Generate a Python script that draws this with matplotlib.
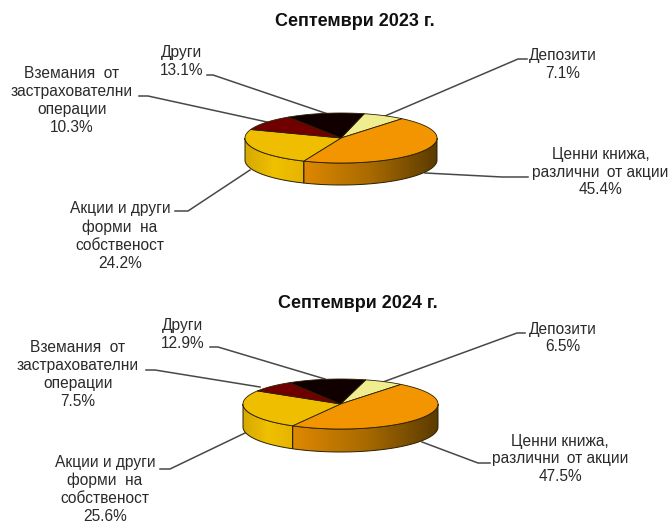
import numpy as np
import matplotlib
matplotlib.use('Agg')
import matplotlib.pyplot as plt
from matplotlib.colors import LinearSegmentedColormap
from matplotlib.patches import Polygon

plt.rcParams['font.family'] = ['Liberation Sans', 'DejaVu Sans']

# Data: slice order is clockwise from the top
categories = ['Депозити', 'Ценни книжа', 'Акции', 'Вземания', 'Други']
values_2023 = [7.1, 45.4, 24.2, 10.3, 13.1]
values_2024 = [6.5, 47.5, 25.6, 7.5, 12.9]
titles = ['Септември 2023 г.', 'Септември 2024 г.']

top_colors = ['#F0EC90', '#F39500', '#EFBE00', '#700000', '#100000']
side_colors = [('#F0EC90', '#B0AC60'), ('#5A3A00', '#A86A00', '#DE8800'),
               ('#E6B400', '#F0C000', '#D6A800'),
               ('#500000', '#300000'), ('#000000', '#000000')]
edge = '#2A2000'


def ellipse_pts(cx, cy, rx, ry, a0, a1, n=120):
    t = np.radians(np.linspace(a0, a1, n))
    return cx + rx * np.cos(t), cy - ry * np.sin(t)


def draw_pie(ax, cx, cy, rx, ry, depth, values, start=76):
    # slice angles, going clockwise
    bounds = start - np.cumsum([0] + values) / sum(values) * 360

    # side wall, only the front half of the ellipse shows
    for i in range(len(values)):
        a0 = min(bounds[i], -0.0)
        a1 = max(bounds[i + 1], -180.0)
        if a0 <= a1:
            continue
        x, y = ellipse_pts(cx, cy, rx, ry, a0, a1)
        xy = np.r_[np.c_[x, y], np.c_[x[::-1], y[::-1] + depth]]
        poly = Polygon(xy, closed=True, fc='none', ec=edge, lw=0.7, zorder=3)
        ax.add_patch(poly)
        cmap = LinearSegmentedColormap.from_list('side', side_colors[i])
        ext = [x.min(), x.max(), cy + ry + depth, cy - ry]
        grad = np.linspace(1, 0, 256).reshape(1, -1)
        im = ax.imshow(grad, cmap=cmap, extent=ext, aspect='auto', zorder=2)
        im.set_clip_path(poly)

    # top face
    for i in range(len(values)):
        x, y = ellipse_pts(cx, cy, rx, ry, bounds[i], bounds[i + 1])
        xy = np.r_[[[cx, cy]], np.c_[x, y]]
        ax.add_patch(Polygon(xy, closed=True, fc=top_colors[i], ec=edge, lw=0.6, zorder=4))


fig = plt.figure(figsize=(6.7, 5.24), dpi=100)
ax = fig.add_axes([0, 0, 1, 1])

draw_pie(ax, 341, 138, 96, 25, 22, values_2023)
draw_pie(ax, 340.5, 404, 97.5, 25, 23, values_2024, start=75)

# leader lines
line_color = '#484848'
leaders = [
    ([207, 213, 328], [75, 75, 114]),
    ([139, 148, 267], [96, 96, 122]),
    ([175, 188, 250], [211, 211, 170]),
    ([528, 502, 425], [177, 177, 173]),
    ([527, 518, 385], [59, 59, 116]),
    ([210, 218, 325], [347, 347, 379]),
    ([146, 155, 260], [370, 370, 387]),
    ([160, 170, 245], [469, 469, 433]),
    ([490, 478, 422], [463, 463, 442]),
    ([525, 517, 383], [333, 333, 382]),
]
for lx, ly in leaders:
    ax.plot(lx, ly, color=line_color, lw=1.1, zorder=1, solid_joinstyle='miter')

# labels
fs = 11.2
labels = [
    (181.5, 61.5, 'Други\n13.1%'),
    (72, 100.5, 'Вземания  от\nзастрахователни\nоперации\n10.3%'),
    (120, 236, 'Акции и други\nформи  на\nсобственост\n24.2%'),
    (600.5, 172, 'Ценни книжа,\nразлични\u2009 от акции\n45.4%'),
    (563, 64.5, 'Депозити\n7.1%'),
    (183, 334.5, 'Други\n12.9%'),
    (78, 374.5, 'Вземания  от\nзастрахователни\nоперации\n7.5%'),
    (105, 489.5, 'Акции и други\nформи  на\nсобственост\n25.6%'),
    (560, 459, 'Ценни книжа,\nразлични\u2009 от акции\n47.5%'),
    (563, 338, 'Депозити\n6.5%'),
]
for x, y, s in labels:
    ax.text(x, y, s, ha='center', va='center', fontsize=fs, color='#2A2A2A', linespacing=1.24, zorder=5)

ax.text(354.5, 21, titles[0], ha='center', va='center', fontsize=13, fontweight='bold', color='#101010')
ax.text(358, 304, titles[1], ha='center', va='center', fontsize=13, fontweight='bold', color='#101010')

ax.set_xlim(0, 670)
ax.set_ylim(524, 0)
ax.axis('off')
fig.savefig('out.png', dpi=100)
